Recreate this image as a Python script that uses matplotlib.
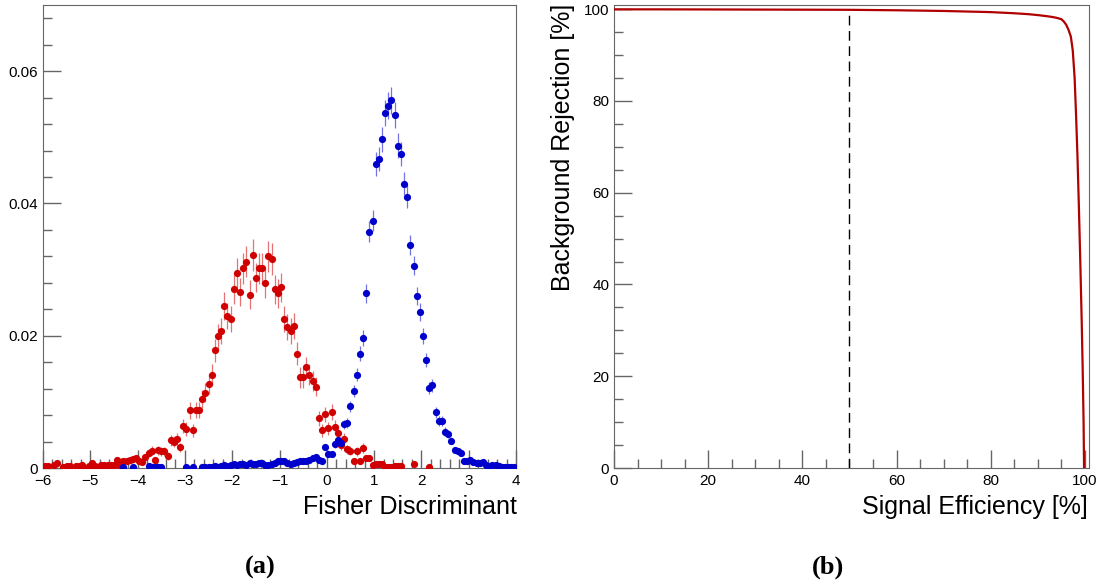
import matplotlib
matplotlib.use("Agg")
import matplotlib.pyplot as plt
from matplotlib.ticker import MultipleLocator, FuncFormatter
import numpy as np

plt.rcParams['font.family'] = ['Liberation Sans', 'DejaVu Sans']

# histogram binning of the Fisher discriminant
N_BINS = 150
X_MIN, X_MAX = -6.0, 4.0

# background (red) and signal (blue) bin contents, None = empty bin
background = [
    0.0003, 0.0003, None, 0.0004, 0.0007, None, 0.0001, 0.0003, 0.0003, None,
    0.0003, 0.0003, 0.0005, 0.0000, 0.0003, 0.0008, 0.0003, 0.0001, 0.0005, 0.0004,
    0.0004, 0.0005, 0.0004, 0.0012, 0.0003, 0.0010, 0.0011, 0.0012, 0.0013, 0.0015,
    0.0011, 0.0009, 0.0016, 0.0023, 0.0026, 0.0012, 0.0027, 0.0025, 0.0025, 0.0018,
    0.0042, 0.0040, 0.0044, 0.0031, 0.0064, 0.0059, 0.0087, 0.0057, 0.0088, 0.0088,
    0.0105, 0.0114, 0.0127, 0.0141, 0.0178, 0.0199, 0.0207, 0.0245, 0.0230, 0.0225,
    0.0270, 0.0295, 0.0266, 0.0302, 0.0312, 0.0262, 0.0322, 0.0288, 0.0302, 0.0302,
    0.0279, 0.0320, 0.0316, 0.0270, 0.0264, 0.0273, 0.0225, 0.0213, 0.0207, 0.0215,
    0.0173, 0.0137, 0.0137, 0.0152, 0.0141, 0.0132, 0.0123, 0.0075, 0.0057, 0.0081,
    0.0060, 0.0085, 0.0062, 0.0053, 0.0035, 0.0044, 0.0028, 0.0026, 0.0011, 0.0025,
    0.0011, 0.0030, 0.0015, 0.0015, 0.0005, 0.0006, 0.0006, 0.0006, 0.0002, 0.0002,
    0.0001, 0.0003, 0.0003, 0.0003, None, None, None, 0.0006, None, None,
    None, None, 0.0002, None, None, None, None, None, None, None,
    None, None, None, None, None, None, None, None, None, None,
    None, None, None, None, None, None, None, None, None, None,
]
signal = [
    None, None, None, None, None, None, None, None, None, None,
    None, None, None, None, None, None, None, None, None, None,
    None, None, None, None, None, 0.0002, None, None, 0.0002, None,
    None, None, None, 0.0003, 0.0002, 0.0001, 0.0001, 0.0001, None, None,
    None, None, None, None, None, 0.0001, None, 0.0001, None, None,
    0.0002, 0.0001, 0.0002, 0.0002, 0.0003, 0.0002, 0.0003, 0.0004, 0.0003, 0.0005,
    0.0006, 0.0005, 0.0006, 0.0006, 0.0005, 0.0007, 0.0006, 0.0006, 0.0008, 0.0007,
    0.0005, 0.0005, 0.0006, 0.0008, 0.0010, 0.0010, 0.0011, 0.0008, 0.0006, 0.0007,
    0.0009, 0.0010, 0.0010, 0.0010, 0.0012, 0.0015, 0.0017, 0.0012, 0.0011, 0.0032,
    0.0021, 0.0021, 0.0036, 0.0042, 0.0038, 0.0066, 0.0068, 0.0093, 0.0117, 0.0141,
    0.0173, 0.0196, 0.0264, 0.0357, 0.0374, 0.0460, 0.0467, 0.0497, 0.0537, 0.0548,
    0.0556, 0.0534, 0.0487, 0.0475, 0.0430, 0.0410, 0.0337, 0.0306, 0.0260, 0.0236,
    0.0200, 0.0163, 0.0121, 0.0125, 0.0084, 0.0071, 0.0071, 0.0055, 0.0052, 0.0041,
    0.0027, 0.0025, 0.0022, 0.0011, 0.0010, 0.0012, 0.0009, 0.0008, 0.0008, 0.0009,
    0.0005, 0.0003, 0.0005, 0.0005, 0.0003, 0.0001, 0.0001, 0.0001, 0.0001, 0.0001,
]
# statistical error scale (sqrt of content, different sample sizes)
BKG_ERR_SCALE = 0.0133
SIG_ERR_SCALE = 0.0085

# ROC curve
sig_eff = [0, 10, 20, 30, 40, 50, 60, 70, 80, 85, 88, 90, 92, 93, 94, 95, 95.5,
           96, 96.5, 97, 97.4, 97.8, 98.1, 98.4, 98.7, 99.0, 99.3, 99.5, 99.7, 99.8]
bkg_rej = [99.95, 99.95, 99.93, 99.9, 99.88, 99.85, 99.75, 99.6, 99.35, 99.1, 98.9,
           98.7, 98.45, 98.3, 98.1, 97.8, 97.3, 96.6, 95.5, 94, 91, 85, 77, 68, 57,
           45, 32, 22, 10, 0]
CUT_EFF = 50

RED = '#d00000'
BLUE = '#0000cc'
FRAME = '#666666'


def style_axes(ax):
    for side in ['top', 'right', 'left', 'bottom']:
        ax.spines[side].set_color(FRAME)
    ax.tick_params(which='both', direction='in', colors=FRAME, labelcolor='black',
                   labelsize=11, top=False, right=False)
    ax.tick_params(axis='x', pad=4.5)
    ax.tick_params(axis='y', pad=3.5)
    ax.tick_params(which='major', length=13, width=1)
    ax.tick_params(which='minor', length=6.5, width=1)


fig = plt.figure(figsize=(11, 5.84), dpi=100)

# ---- (a) Fisher discriminant distributions
ax1 = fig.add_axes([43 / 1100, 1 - 468 / 584, 473 / 1100, 463 / 584])
edges = np.linspace(X_MIN, X_MAX, N_BINS + 1)
centers = 0.5 * (edges[:-1] + edges[1:])
for vals, col, k in [(background, RED, BKG_ERR_SCALE), (signal, BLUE, SIG_ERR_SCALE)]:
    y = np.array([np.nan if v is None else v for v in vals], dtype=float)
    err = k * np.sqrt(np.nan_to_num(y))
    ok = ~np.isnan(y)
    ax1.errorbar(centers[ok], y[ok], yerr=err[ok], fmt='none', ecolor=col,
                 alpha=0.55, elinewidth=0.9, zorder=2)
    ax1.plot(centers[ok], y[ok], 'o', color=col, markersize=5.2, zorder=3,
             markeredgewidth=0)
ax1.set_xlim(X_MIN, X_MAX)
ax1.set_ylim(0, 0.07)
ax1.xaxis.set_major_locator(MultipleLocator(1))
ax1.xaxis.set_minor_locator(MultipleLocator(0.2))
ax1.yaxis.set_major_locator(MultipleLocator(0.02))
ax1.yaxis.set_minor_locator(MultipleLocator(0.004))
ax1.yaxis.set_major_formatter(FuncFormatter(lambda v, p: '0' if abs(v) < 1e-9 else f'{v:g}'))
style_axes(ax1)
fig.text(517 / 1100, 1 - 507 / 584, 'Fisher Discriminant', ha='right', va='center',
         fontsize=18)

# ---- (b) ROC curve
ax2 = fig.add_axes([614 / 1100, 1 - 468 / 584, 475 / 1100, 463 / 584])
ax2.plot(sig_eff, bkg_rej, color='#b00000', lw=1.6, zorder=3)
ax2.plot([CUT_EFF, CUT_EFF], [0, np.interp(CUT_EFF, sig_eff, bkg_rej)], color='black',
         lw=1.0, dashes=(7, 4), zorder=2)
ax2.set_xlim(0, 100.85)
ax2.set_ylim(0, 100.9)
ax2.xaxis.set_major_locator(MultipleLocator(20))
ax2.xaxis.set_minor_locator(MultipleLocator(5))
ax2.yaxis.set_major_locator(MultipleLocator(20))
ax2.yaxis.set_minor_locator(MultipleLocator(5))
style_axes(ax2)
fig.text(1088 / 1100, 1 - 507 / 584, 'Signal Efficiency [%]', ha='right', va='center',
         fontsize=18)
fig.text(563 / 1100, 1 - 4 / 584, 'Background Rejection [%]', ha='center', va='top',
         rotation=90, fontsize=18)

# captions
fig.text(260 / 1100, 1 - 567 / 584, '(a)', ha='center', va='center', fontsize=19,
         fontweight='bold', family='Liberation Serif')
fig.text(828 / 1100, 1 - 567 / 584, '(b)', ha='center', va='center', fontsize=19,
         fontweight='bold', family='Liberation Serif')

fig.savefig('out.png', dpi=100)
